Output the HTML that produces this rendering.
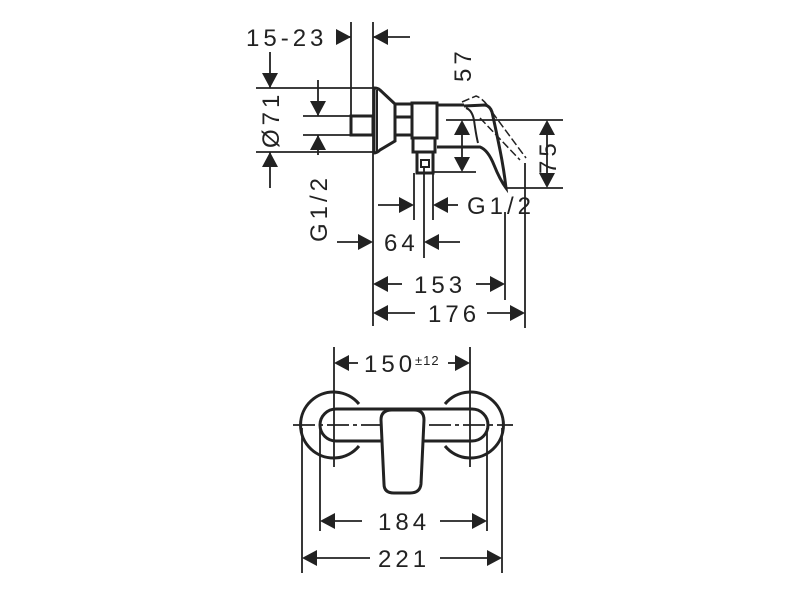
<!DOCTYPE html>
<html><head><style>html,body{margin:0;padding:0;background:#fff;}svg{display:block}
text{font-family:"Liberation Sans",sans-serif;font-size:24px;fill:#222;letter-spacing:4px}</style></head>
<body>
<svg width="800" height="600" viewBox="0 0 800 600" xmlns="http://www.w3.org/2000/svg">
<g stroke="#222" stroke-width="1.8" fill="none">
<line x1="351" y1="22" x2="351" y2="116"/>
<line x1="373" y1="22" x2="373" y2="326"/>
<line x1="337" y1="37" x2="351" y2="37"/>
<line x1="373" y1="37" x2="410" y2="37"/>
<line x1="256" y1="88" x2="373" y2="88"/>
<line x1="256" y1="152" x2="373" y2="152"/>
<line x1="270" y1="52" x2="270" y2="88"/>
<line x1="270" y1="152" x2="270" y2="188"/>
<line x1="303" y1="116" x2="351" y2="116"/>
<line x1="303" y1="135" x2="351" y2="135"/>
<line x1="318" y1="80" x2="318" y2="116"/>
<line x1="318" y1="135" x2="318" y2="155"/>
<rect x="351" y="116" width="22" height="19" stroke-width="3"/>
<path d="M374 88 Q378 88 380 90 L395 104 L395 141 L380 150 Q377 153 374 153 Z" stroke-width="3"/>
<line x1="377" y1="90" x2="377" y2="151" stroke-width="2"/>
<rect x="395" y="104" width="17" height="31" stroke-width="3"/>
<line x1="395" y1="117" x2="412" y2="117" stroke-width="3"/>
<rect x="412" y="103" width="25" height="35" stroke-width="3"/>
<rect x="413" y="138" width="22" height="14" stroke-width="3"/>
<rect x="417" y="152" width="16" height="21" stroke-width="3"/>
<rect x="421" y="160" width="8" height="7" stroke-width="2"/>
<line x1="437" y1="105" x2="464" y2="105" stroke-width="3"/>
<path d="M464 106 L485 105 Q490 106 492 112 Q496 130 500 150 Q504 170 506 188 Q500 180 494 165 Q488 150 480 147 L437 147" stroke-width="3"/>
<path d="M466 108 Q472 110 474 120 Q476 135 478 143" stroke-width="2"/>
<path d="M462 102 L476 96 Q482 98 488 106 M492 112 L526 158 M480 118 L520 160" stroke-width="1.5" stroke-dasharray="8 3"/>
<line x1="446" y1="120" x2="563" y2="120"/>
<line x1="433" y1="172" x2="476" y2="172"/>
<line x1="462" y1="135" x2="462" y2="157"/>
<line x1="505" y1="188" x2="563" y2="188"/>
<line x1="547" y1="135" x2="547" y2="173"/>
<line x1="414" y1="173" x2="414" y2="220"/>
<line x1="433" y1="173" x2="433" y2="220"/>
<line x1="378" y1="205" x2="399" y2="205"/>
<line x1="448" y1="205" x2="458" y2="205"/>
<line x1="424" y1="167" x2="424" y2="258"/>
<line x1="337" y1="242" x2="358" y2="242"/>
<line x1="439" y1="242" x2="460" y2="242"/>
<line x1="505" y1="212" x2="505" y2="300"/>
<line x1="525" y1="163" x2="525" y2="328"/>
<line x1="388" y1="284" x2="402" y2="284"/>
<line x1="476" y1="284" x2="490" y2="284"/>
<line x1="388" y1="313" x2="415" y2="313"/>
<line x1="487" y1="313" x2="510" y2="313"/>
<line x1="334" y1="347" x2="334" y2="467"/>
<line x1="470" y1="347" x2="470" y2="467"/>
<line x1="349" y1="363" x2="358" y2="363"/>
<line x1="448" y1="363" x2="455" y2="363"/>
<line x1="293" y1="425" x2="513" y2="425" stroke-dasharray="22 4 4 4"/>
<path d="M359 404 A33 33 0 1 0 359 446" stroke-width="3"/>
<path d="M445 404 A33 33 0 1 1 445 446" stroke-width="3"/>
<path d="M336 409 L472 409 A16 16 0 0 1 472 441 L418 441 L386 441 L336 441 A16 16 0 0 1 336 409 Z" stroke-width="3"/>
<path d="M392 410 L414 410 Q424 410 424 420 L421 484 Q420 493 410 493 L394 493 Q384 493 384 484 L381 420 Q381 410 392 410 Z" fill="#fff" stroke-width="3"/>
<line x1="320" y1="428" x2="320" y2="531"/>
<line x1="487" y1="428" x2="487" y2="531"/>
<line x1="302" y1="428" x2="302" y2="573"/>
<line x1="502" y1="428" x2="502" y2="573"/>
<line x1="335" y1="521" x2="362" y2="521"/>
<line x1="440" y1="521" x2="472" y2="521"/>
<line x1="317" y1="558" x2="370" y2="558"/>
<line x1="440" y1="558" x2="487" y2="558"/>
</g>
<g fill="#222">
<polygon points="351,37 336,29 336,45"/>
<polygon points="373,37 388,29 388,45"/>
<polygon points="270,88 262,73 278,73"/>
<polygon points="270,152 262,167 278,167"/>
<polygon points="318,116 310,101 326,101"/>
<polygon points="318,135 310,150 326,150"/>
<polygon points="462,120 454,135 470,135"/>
<polygon points="462,172 454,157 470,157"/>
<polygon points="547,120 539,135 555,135"/>
<polygon points="547,188 539,173 555,173"/>
<polygon points="414,205 399,197 399,213"/>
<polygon points="433,205 448,197 448,213"/>
<polygon points="373,242 358,234 358,250"/>
<polygon points="424,242 439,234 439,250"/>
<polygon points="373,284 388,276 388,292"/>
<polygon points="505,284 490,276 490,292"/>
<polygon points="373,313 388,305 388,321"/>
<polygon points="525,313 510,305 510,321"/>
<polygon points="334,363 349,355 349,371"/>
<polygon points="470,363 455,355 455,371"/>
<polygon points="320,521 335,513 335,529"/>
<polygon points="487,521 472,513 472,529"/>
<polygon points="302,558 317,550 317,566"/>
<polygon points="502,558 487,550 487,566"/>
</g>
<text x="246" y="46">15-23</text>
<text transform="translate(279,148) rotate(-90)">Ø71</text>
<text transform="translate(327,242) rotate(-90)">G1/2</text>
<text transform="translate(471,82) rotate(-90)">57</text>
<text transform="translate(556,174) rotate(-90)">75</text>
<text x="467" y="214">G1/2</text>
<text x="384" y="251">64</text>
<text x="414" y="293">153</text>
<text x="428" y="322">176</text>
<text x="364" y="372">150</text>
<text x="415" y="365" style="font-size:13px;letter-spacing:1px">±12</text>
<text x="378" y="530">184</text>
<text x="378" y="567">221</text>
</svg>
</body></html>
